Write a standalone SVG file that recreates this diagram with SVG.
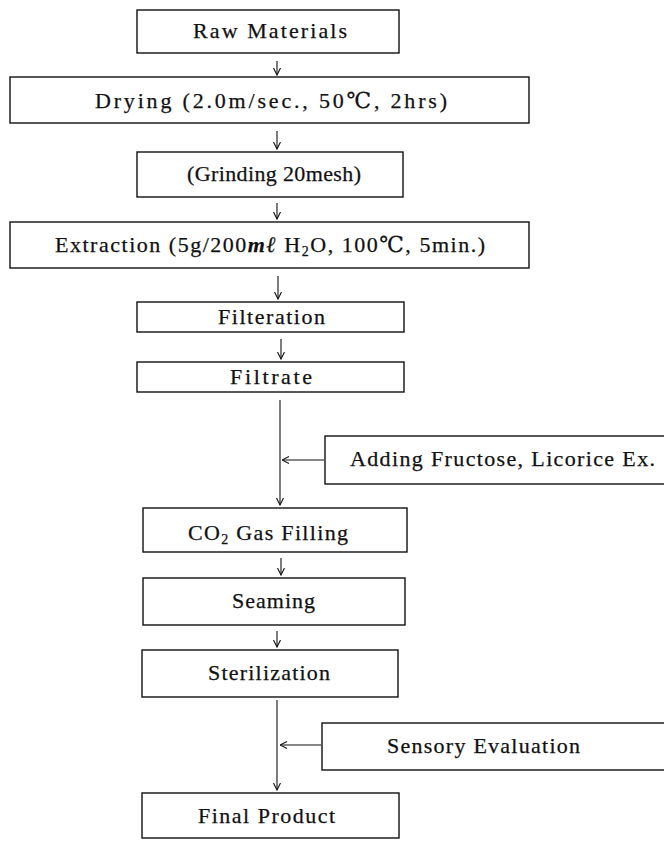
<svg xmlns="http://www.w3.org/2000/svg" width="664" height="841" viewBox="0 0 664 841">
<style>
.box{fill:none;stroke:#111;stroke-width:1.4}
.t{font-family:'Liberation Serif','Times New Roman','DejaVu Serif','Noto Sans CJK JP',serif;font-size:22px;fill:#111;stroke:#111;stroke-width:0.25}
.c{fill:none;stroke:#111;stroke-width:1.1}
</style>
<defs>
<marker id="ah" viewBox="0 0 8 8" refX="7.5" refY="4" markerWidth="8" markerHeight="8" markerUnits="userSpaceOnUse" orient="auto">
<path d="M0.5,0.5 L7.5,4 L0.5,7.5" fill="none" stroke="#111" stroke-width="1.1"/>
</marker>
</defs>
<rect width="664" height="841" fill="#fff"/>
<g id="raw"><rect class="box" x="137" y="10" width="262" height="43"/><text class="t" x="193" y="38" textLength="154" lengthAdjust="spacing">Raw Materials</text></g>
<g id="drying"><rect class="box" x="10" y="77" width="519" height="46"/><text class="t" x="95" y="108" textLength="352" lengthAdjust="spacing">Drying (2.0m/sec., 50℃, 2hrs)</text></g>
<g id="grinding"><rect class="box" x="137" y="152" width="266" height="45"/><text class="t" x="187" y="181" textLength="174" lengthAdjust="spacing">(Grinding 20mesh)</text></g>
<g id="extraction"><rect class="box" x="10" y="222" width="519" height="46"/><text class="t" x="55" y="252" textLength="430" lengthAdjust="spacing">Extraction (5g/200<tspan font-style="italic" font-weight="bold">mℓ</tspan> H<tspan font-size="14" dy="4">2</tspan><tspan dy="-4">O, 100℃, 5min.)</tspan></text></g>
<g id="filteration"><rect class="box" x="137" y="302" width="267" height="30"/><text class="t" x="218" y="324" textLength="107" lengthAdjust="spacing">Filteration</text></g>
<g id="filtrate"><rect class="box" x="137" y="362" width="267" height="30"/><text class="t" x="230" y="384" textLength="82" lengthAdjust="spacing">Filtrate</text></g>
<g id="adding"><rect class="box" x="325" y="436" width="345" height="48"/><text class="t" x="350" y="466" textLength="305" lengthAdjust="spacing">Adding Fructose, Licorice Ex.</text></g>
<g id="co2"><rect class="box" x="143" y="508" width="264" height="44"/><text class="t" x="188" y="540" textLength="160" lengthAdjust="spacing">CO<tspan font-size="14" dy="4">2</tspan><tspan dy="-4"> Gas Filling</tspan></text></g>
<g id="seaming"><rect class="box" x="143" y="578" width="262" height="47"/><text class="t" x="232" y="608" textLength="83" lengthAdjust="spacing">Seaming</text></g>
<g id="sterilization"><rect class="box" x="142" y="650" width="256" height="47"/><text class="t" x="208" y="680" textLength="122" lengthAdjust="spacing">Sterilization</text></g>
<g id="sensory"><rect class="box" x="322" y="723" width="348" height="47"/><text class="t" x="387" y="753" textLength="193" lengthAdjust="spacing">Sensory Evaluation</text></g>
<g id="final"><rect class="box" x="142" y="793" width="257" height="45"/><text class="t" x="198" y="823" textLength="137" lengthAdjust="spacing">Final Product</text></g>
<g id="connectors">
<line class="c" x1="277" y1="61" x2="277" y2="75" marker-end="url(#ah)"/>
<line class="c" x1="277" y1="131" x2="277" y2="149" marker-end="url(#ah)"/>
<line class="c" x1="277" y1="203" x2="277" y2="219" marker-end="url(#ah)"/>
<line class="c" x1="278" y1="276" x2="278" y2="299" marker-end="url(#ah)"/>
<line class="c" x1="281" y1="339" x2="281" y2="359" marker-end="url(#ah)"/>
<line class="c" x1="280" y1="400" x2="280" y2="505" marker-end="url(#ah)"/>
<line class="c" x1="324" y1="460" x2="282" y2="460" marker-end="url(#ah)"/>
<line class="c" x1="281" y1="558" x2="281" y2="575" marker-end="url(#ah)"/>
<line class="c" x1="277" y1="631" x2="277" y2="647" marker-end="url(#ah)"/>
<line class="c" x1="277" y1="700" x2="277" y2="790" marker-end="url(#ah)"/>
<line class="c" x1="321" y1="745" x2="280" y2="745" marker-end="url(#ah)"/>
</g>
</svg>
